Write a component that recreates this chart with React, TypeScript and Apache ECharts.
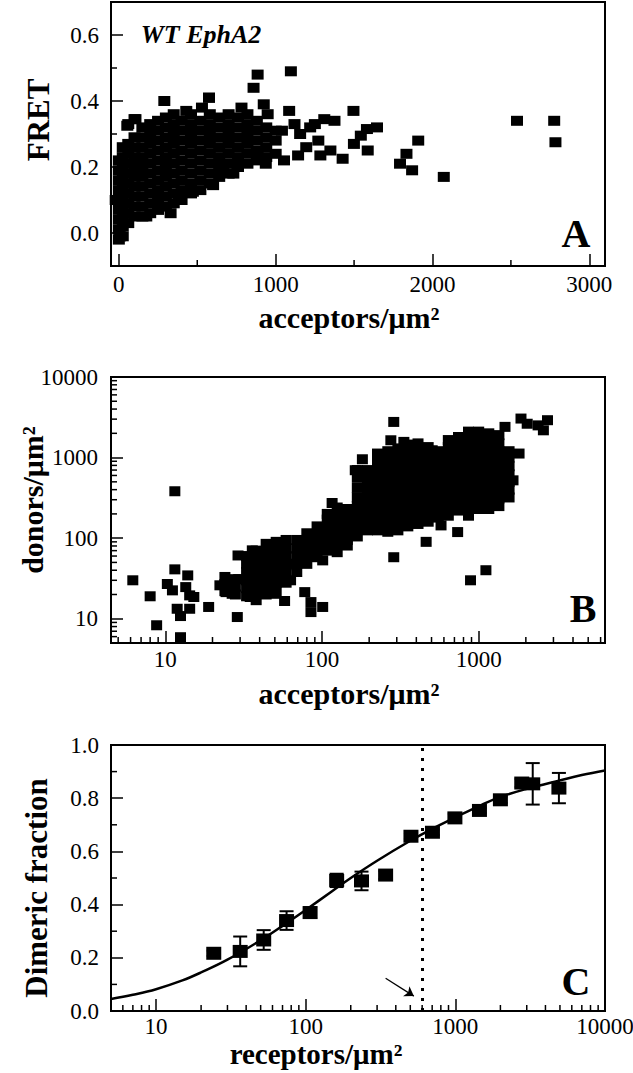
import React, { useEffect, useRef } from "react";
import * as echarts from "echarts";

const SERIF = "Liberation Serif, Times New Roman, Times, serif";

// ---------- Panel A: FRET vs acceptors ----------
const A_XMIN = -50, A_XMAX = 3100, A_YMIN = -0.1, A_YMAX = 0.7;
const aXMinorTicks = [500, 1500, 2500];
const aYMinorTicks = [0.1, 0.3, 0.5];
const fretPoints: [number, number][] = [
  [0,-0.02],[0,0.01],[0,0.04],[0,0.07],[0,0.10],[0,0.13],[0,0.16],[0,0.19],[0,0.22],
  [25,-0.01],[25,0.02],[25,0.05],[25,0.08],[25,0.11],[25,0.14],[25,0.17],[25,0.20],[25,0.23],[25,0.26],
  [60,0.03],[60,0.06],[60,0.09],[60,0.12],[60,0.15],[60,0.18],[60,0.21],[60,0.24],[60,0.27],[60,0.33],
  [100,0.05],[100,0.08],[100,0.11],[100,0.14],[100,0.17],[100,0.20],[100,0.23],[100,0.26],[100,0.29],[100,0.345],
  [150,0.05],[150,0.08],[150,0.11],[150,0.14],[150,0.17],[150,0.20],[150,0.23],[150,0.26],[150,0.29],[150,0.32],
  [200,0.06],[200,0.09],[200,0.12],[200,0.15],[200,0.18],[200,0.21],[200,0.24],[200,0.27],[200,0.30],[200,0.33],
  [250,0.07],[250,0.10],[250,0.13],[250,0.16],[250,0.19],[250,0.22],[250,0.25],[250,0.28],[250,0.31],[250,0.34],
  [300,0.08],[300,0.11],[300,0.14],[300,0.17],[300,0.20],[300,0.23],[300,0.26],[300,0.29],[300,0.32],[300,0.35],[290,0.40],
  [350,0.09],[350,0.12],[350,0.15],[350,0.18],[350,0.21],[350,0.24],[350,0.27],[350,0.30],[350,0.33],[350,0.36],
  [400,0.10],[400,0.13],[400,0.16],[400,0.19],[400,0.22],[400,0.25],[400,0.28],[400,0.31],[400,0.34],[430,0.37],
  [460,0.12],[460,0.15],[460,0.18],[460,0.21],[460,0.24],[460,0.27],[460,0.30],[460,0.33],[460,0.36],
  [520,0.13],[520,0.16],[520,0.19],[520,0.22],[520,0.25],[520,0.28],[520,0.31],[520,0.34],[530,0.38],
  [580,0.15],[580,0.18],[580,0.21],[580,0.24],[580,0.27],[580,0.30],[580,0.33],[580,0.36],[575,0.41],
  [640,0.17],[640,0.20],[640,0.23],[640,0.26],[640,0.29],[640,0.32],[640,0.35],
  [700,0.18],[700,0.21],[700,0.24],[700,0.27],[700,0.30],[700,0.33],[700,0.36],
  [760,0.20],[760,0.23],[760,0.26],[760,0.29],[760,0.32],[760,0.35],[782,0.38],
  [820,0.21],[820,0.24],[820,0.27],[820,0.30],[820,0.33],[820,0.36],
  [880,0.22],[880,0.25],[880,0.28],[880,0.31],[880,0.34],
  [940,0.23],[940,0.26],[940,0.29],[940,0.32],
  [1000,0.24],[1000,0.28],[1000,0.31],
  [885,0.48],[859,0.44],[1097,0.49],[924,0.39],[1086,0.37],[1496,0.37],[1793,0.21],[1834,0.24],
  [1870,0.19],[1909,0.28],[2072,0.17],[2539,0.34],[2776,0.34],[2784,0.275],[1646,0.32],[1582,0.315],
  [1587,0.25],[1427,0.225],[1499,0.27],[1543,0.295],[1285,0.235],[1375,0.34],[1310,0.345],[1220,0.32],
  [1349,0.25],[1195,0.26],[1143,0.235],[1053,0.22],[937,0.21],[949,0.36],[1040,0.31],[1156,0.30],
  [1272,0.28],[330,0.06],[175,0.05],[601,0.145],[382,0.10],[472,0.125],[575,0.41],[54,0.325],
  [106,0.345],[756,0.20],[730,0.18],[666,0.19],[885,0.24],[8,-0.01],[-20,0.10],[1120,0.33],[1250,0.33]
];

// ---------- Panel B: donors vs acceptors (log-log) ----------
const B_XMIN = 4.5, B_XMAX = 6400, B_YMIN = 5, B_YMAX = 10000;
const bXMinorTicks = [5, 6, 7, 8, 9, 20, 30, 40, 50, 60, 70, 80, 90, 200, 300, 400, 500, 600, 700, 800, 900, 2000, 3000, 4000, 5000, 6000];
const bYMinorTicks = [6, 7, 8, 9, 20, 30, 40, 50, 60, 70, 80, 90, 200, 300, 400, 500, 600, 700, 800, 900, 2000, 3000, 4000, 5000, 6000, 7000, 8000, 9000];
const donorPoints: [number, number][] = [
  [24,22],[24,27],[24,33],
  [28,20],[28,25],[28,31],
  [33,19],[33,24],[33,30],[33,38],[33,48],[33,60],
  [38,17],[38,21],[38,27],[38,34],[38,43],[38,55],[38,70],
  [44,20],[44,26],[44,33],[44,42],[44,53],[44,68],[44,85],
  [51,22],[51,28],[51,36],[51,46],[51,58],[51,74],[51,90],
  [59,28],[59,36],[59,46],[59,58],[59,74],[59,95],
  [69,38],[69,48],[69,60],[69,75],[69,95],
  [80,48],[80,60],[80,75],[80,95],[80,115],
  [93,58],[93,72],[93,90],[93,112],[93,140],
  [108,70],[108,88],[108,110],[108,138],[108,170],[108,200],
  [125,85],[125,105],[125,130],[125,160],[125,200],[125,240],
  [145,95],[145,120],[145,150],[145,185],[145,230],
  [168,105],[168,130],[168,160],[168,200],[168,250],[168,320],[168,420],[168,560],[168,700],
  [195,125],[195,155],[195,190],[195,235],[195,290],[195,360],[195,450],[195,560],[195,700],
  [226,125],[226,155],[226,190],[226,235],[226,290],[226,360],[226,450],[226,560],[226,700],[226,870],[226,1080],
  [263,120],[263,150],[263,185],[263,230],[263,285],[263,350],[263,430],[263,530],[263,650],[263,800],[263,1000],[263,1200],
  [305,125],[305,155],[305,190],[305,235],[305,290],[305,360],[305,450],[305,560],[305,700],[305,870],[305,1080],[305,1300],
  [353,140],[353,175],[353,215],[353,265],[353,330],[353,410],[353,510],[353,630],[353,780],[353,960],[353,1180],[353,1450],
  [410,150],[410,185],[410,230],[410,285],[410,350],[410,430],[410,530],[410,650],[410,800],[410,1000],[410,1250],[410,1500],
  [476,160],[476,200],[476,245],[476,300],[476,370],[476,460],[476,570],[476,700],[476,870],[476,1080],[476,1350],
  [552,180],[552,220],[552,270],[552,335],[552,415],[552,510],[552,630],[552,780],[552,960],[552,1200],
  [640,190],[640,235],[640,290],[640,360],[640,450],[640,560],[640,700],[640,870],[640,1080],[640,1350],[640,1650],
  [743,220],[743,270],[743,335],[743,415],[743,510],[743,630],[743,780],[743,960],[743,1200],[743,1500],[743,1800],
  [861,190],[861,240],[861,300],[861,370],[861,460],[861,570],[861,700],[861,870],[861,1080],[861,1350],[861,1700],[861,2100],
  [1000,230],[1000,290],[1000,360],[1000,450],[1000,560],[1000,700],[1000,870],[1000,1080],[1000,1350],[1000,1700],[1000,2100],
  [1160,230],[1160,290],[1160,360],[1160,450],[1160,560],[1160,700],[1160,870],[1160,1080],[1160,1350],[1160,1700],[1160,2000],
  [1346,250],[1346,310],[1346,390],[1346,490],[1346,610],[1346,760],[1346,950],[1346,1200],[1346,1500],[1346,1900],
  [1563,320],[1563,400],[1563,500],[1563,620],[1563,780],[1563,1000],[1563,1200],
  [6.2,30],[8.0,19],[8.8,8.3],[10.3,27],[11.1,22.5],[11.5,41],[11.5,382],[11.9,13.3],[12.5,10.8],[12.5,5.9],
  [13.5,24.7],[13.9,34.5],[14.3,19.5],[14.3,13.3],[15.2,18.6],[18.9,14],[22.3,26],[24.4,21.4],[26.7,20.4],
  [28.8,10.5],[29.1,61],[29.4,31],[34.8,18.6],[35.9,70.6],[39,44],[41.6,27],[46.9,70.6],[49.8,20.4],[51.3,77.6],
  [56,40],[57.7,16.6],[63,30],[63,48],[77.6,21.4],[85,16.1],[85,12.1],[101,14],[101,53],[80,85],[95.7,103],
  [114,166],[116,273],[125,67],[145,81],[163,697],[181,953],[226,1122],[287,2770],[275,1640],[333,1566],
  [462,90],[287,58],[734,119],[575,144],[887,30],[1112,40],[1862,3050],[2040,2630],[2394,2510],[2588,2180],
  [2748,2910],[1810,1122],[1656,522],[1472,2405],[505,1233]
];

// ---------- Panel C: dimeric fraction vs receptors ----------
const C_XMIN = 5, C_XMAX = 10000, C_YMIN = 0, C_YMAX = 1;
const cXMinorTicks = [6, 7, 8, 9, 20, 30, 40, 50, 60, 70, 80, 90, 200, 300, 400, 500, 600, 700, 800, 900, 2000, 3000, 4000, 5000, 6000, 7000, 8000, 9000];
const cYMinorTicks = [0.1, 0.3, 0.5, 0.7, 0.9];
const receptors = [24.3, 36.5, 52.4, 74.5, 107, 161, 236, 342, 505, 703, 993, 1449, 2000, 2778, 3289, 4920];
const dimericFraction = [0.217, 0.224, 0.267, 0.34, 0.37, 0.491, 0.489, 0.511, 0.657, 0.672, 0.726, 0.754, 0.794, 0.857, 0.854, 0.838];
const dimericError = [0.01, 0.056, 0.037, 0.035, 0.02, 0.025, 0.035, 0.015, 0.01, 0.01, 0.015, 0.01, 0.012, 0.015, 0.078, 0.057];
const fitReceptors = [5, 7, 10, 15, 20, 30, 50, 70, 100, 150, 200, 300, 500, 700, 1000, 1500, 2000, 3000, 5000, 7000, 10000];
const fitFraction = [0.045, 0.061, 0.082, 0.115, 0.145, 0.193, 0.266, 0.32, 0.38, 0.45, 0.5, 0.565, 0.64, 0.685, 0.728, 0.775, 0.805, 0.835, 0.867, 0.887, 0.904];
const dottedLineX = 600;
const arrowFrom: [number, number] = [342, 0.123];
const arrowTo: [number, number] = [528, 0.056];

const isPow10 = (v: number) => {
  const l = Math.log10(v);
  return Math.abs(l - Math.round(l)) < 1e-6;
};

function axisBase(formatter: (v: number) => string, margin: number) {
  return {
    axisLine: { show: true, onZero: false, lineStyle: { color: "#000", width: 2 } },
    axisTick: { show: true, inside: true, length: 12, lineStyle: { color: "#000", width: 1.5 } },
    axisLabel: { color: "#000", fontFamily: SERIF, fontSize: 23, margin, formatter },
    splitLine: { show: false },
    minorTick: { show: false },
  };
}

function minorTickSeries(idx: number, data: number[][]) {
  return {
    type: "custom",
    xAxisIndex: idx,
    yAxisIndex: idx,
    coordinateSystem: "cartesian2d",
    encode: { x: 0, y: 1 },
    data,
    silent: true,
    clip: false,
    z: 5,
    renderItem: (_p: any, api: any) => {
      const pt = api.coord([api.value(0), api.value(1)]);
      const dir = api.value(2);
      const len = 6;
      return {
        type: "line",
        shape: dir === 0
          ? { x1: pt[0], y1: pt[1], x2: pt[0], y2: pt[1] - len }
          : { x1: pt[0], y1: pt[1], x2: pt[0] + len, y2: pt[1] },
        style: { stroke: "#000", lineWidth: 1.5 },
      };
    },
  };
}

function titleText(text: string, x: number, y: number, size: number, rotate = false, extra: any = {}) {
  return {
    type: "text",
    x,
    y,
    rotation: rotate ? Math.PI / 2 : 0,
    silent: true,
    style: {
      text,
      fill: "#000",
      fontFamily: SERIF,
      fontWeight: "bold",
      fontSize: size,
      align: "center",
      verticalAlign: "middle",
      ...extra,
    },
  };
}

const squareStyle = { color: "#000", opacity: 1, borderWidth: 0 };

export default function App() {
  const ref = useRef<HTMLDivElement>(null);

  useEffect(() => {
    if (!ref.current) return;
    const chart = echarts.init(ref.current, undefined, { renderer: "svg" });

    const gridBase = { left: 111, right: 28, show: true, borderColor: "#000", borderWidth: 2, backgroundColor: "transparent", containLabel: false, outerBoundsMode: "none" };

    const option: any = {
      animation: false,
      backgroundColor: "#fff",
      grid: [
        { ...gridBase, top: 2, height: 264 },
        { ...gridBase, top: 377, height: 266 },
        { ...gridBase, top: 745, height: 266 },
      ],
      xAxis: [
        {
          gridIndex: 0, type: "value", min: A_XMIN, max: A_XMAX, splitNumber: 3,
          ...axisBase((v: number) => (Math.abs(v % 1000) < 1e-6 ? String(Math.round(v)) : ""), 7),
        },
        {
          gridIndex: 1, type: "log", logBase: 10, min: B_XMIN, max: B_XMAX,
          ...axisBase((v: number) => (isPow10(v) ? String(Math.round(v)) : ""), 5),
        },
        {
          gridIndex: 2, type: "log", logBase: 10, min: C_XMIN, max: C_XMAX,
          ...axisBase((v: number) => (isPow10(v) ? String(Math.round(v)) : ""), 4),
        },
      ],
      yAxis: [
        {
          gridIndex: 0, type: "value", min: A_YMIN, max: A_YMAX, splitNumber: 4,
          ...axisBase((v: number) => {
            const r = Math.round(v / 0.2);
            return Math.abs(v - r * 0.2) < 1e-6 ? Math.abs(v).toFixed(1) : "";
          }, 12),
        },
        {
          gridIndex: 1, type: "log", logBase: 10, min: B_YMIN, max: B_YMAX,
          ...axisBase((v: number) => (isPow10(v) ? String(Math.round(v)) : ""), 13),
        },
        {
          gridIndex: 2, type: "value", min: C_YMIN, max: C_YMAX, interval: 0.2,
          ...axisBase((v: number) => v.toFixed(1), 12),
        },
      ],
      series: [
        {
          type: "scatter", xAxisIndex: 0, yAxisIndex: 0, data: fretPoints,
          symbol: "rect", symbolSize: [12, 10], itemStyle: squareStyle, silent: true,
        },
        minorTickSeries(0, [
          ...aXMinorTicks.map((v) => [v, A_YMIN, 0]),
          ...aYMinorTicks.map((v) => [A_XMIN, v, 1]),
        ]),
        {
          type: "scatter", xAxisIndex: 1, yAxisIndex: 1, data: donorPoints,
          symbol: "rect", symbolSize: [11, 10], itemStyle: squareStyle, silent: true,
        },
        minorTickSeries(1, [
          ...bXMinorTicks.map((v) => [v, B_YMIN, 0]),
          ...bYMinorTicks.map((v) => [B_XMIN, v, 1]),
        ]),
        {
          type: "line", xAxisIndex: 2, yAxisIndex: 2,
          data: fitReceptors.map((r, i) => [r, fitFraction[i]]),
          smooth: 0.4, showSymbol: false, symbol: "none", silent: true,
          lineStyle: { color: "#000", width: 2.5 },
          markLine: {
            silent: true,
            symbol: "none",
            label: { show: false },
            data: [
              { xAxis: dottedLineX, lineStyle: { type: [3, 7], width: 3, color: "#000" } },
              [
                { coord: arrowFrom, symbol: "none", lineStyle: { type: "solid", width: 1.3, color: "#000" } },
                { coord: arrowTo, symbol: "arrow", symbolSize: 9 },
              ],
            ],
          },
        },
        {
          type: "custom", xAxisIndex: 2, yAxisIndex: 2, coordinateSystem: "cartesian2d",
          encode: { x: 0, y: 1 }, silent: true, z: 3,
          data: receptors.map((r, i) => [r, dimericFraction[i], dimericError[i]]),
          renderItem: (_p: any, api: any) => {
            const x = api.value(0), y = api.value(1), e = api.value(2);
            const top = api.coord([x, y + e]);
            const bot = api.coord([x, y - e]);
            const cap = 7;
            const st = { stroke: "#000", lineWidth: 2 };
            return {
              type: "group",
              children: [
                { type: "line", shape: { x1: top[0], y1: top[1], x2: bot[0], y2: bot[1] }, style: st },
                { type: "line", shape: { x1: top[0] - cap, y1: top[1], x2: top[0] + cap, y2: top[1] }, style: st },
                { type: "line", shape: { x1: bot[0] - cap, y1: bot[1], x2: bot[0] + cap, y2: bot[1] }, style: st },
              ],
            };
          },
        },
        {
          type: "scatter", xAxisIndex: 2, yAxisIndex: 2, z: 4,
          data: receptors.map((r, i) => [r, dimericFraction[i]]),
          symbol: "rect", symbolSize: [15, 13], itemStyle: squareStyle, silent: true,
        },
        minorTickSeries(2, [
          ...cXMinorTicks.map((v) => [v, C_YMIN, 0]),
          ...cYMinorTicks.map((v) => [C_XMIN, v, 1]),
        ]),
      ],
      graphic: [
        titleText("WT EphA2", 201, 34, 26, false, { fontStyle: "italic" }),
        titleText("FRET", 38, 120, 31, true),
        titleText("acceptors/μm²", 349, 317, 30),
        titleText("A", 576, 233, 40),
        titleText("donors/μm²", 32, 500, 30, true),
        titleText("acceptors/μm²", 349, 693, 30),
        titleText("B", 583, 608, 40),
        titleText("Dimeric fraction", 36, 888, 31, true),
        titleText("receptors/μm²", 316, 1054, 29),
        titleText("C", 576, 981, 40),
      ],
    };

    chart.setOption(option);
    return () => chart.dispose();
  }, []);

  return (
    <div
      ref={ref}
      style={{ position: "absolute", left: 0, top: 0, width: 633, height: 1073, background: "#fff" }}
    />
  );
}
